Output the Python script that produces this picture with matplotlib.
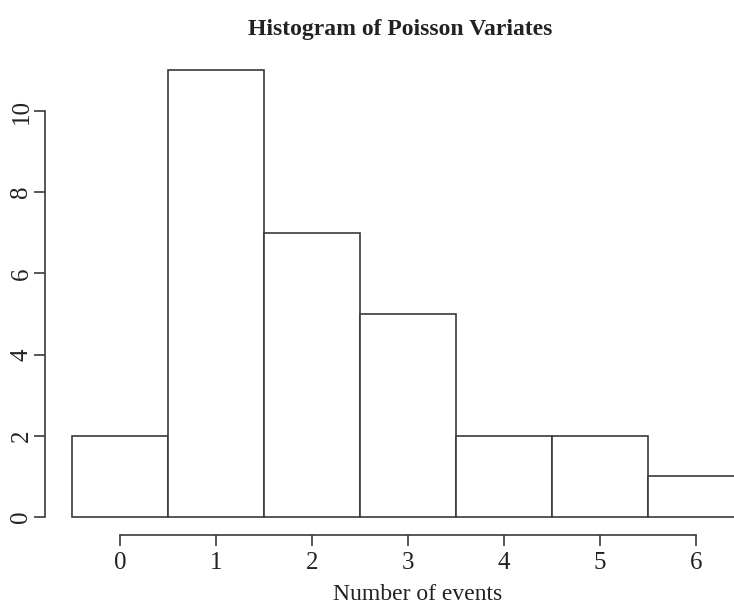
import matplotlib
matplotlib.use("Agg")
import matplotlib.pyplot as plt

# Poisson counts: value -> frequency
events = [0, 1, 2, 3, 4, 5, 6]
counts = [2, 11, 7, 5, 2, 2, 1]
y_ticks = [0, 2, 4, 6, 8, 10]
x_ticks = [0, 1, 2, 3, 4, 5, 6]

plt.rcParams['font.family'] = ['Liberation Serif', 'DejaVu Serif']
line_col = '#3a3a3a'

W, H = 734, 606
fig = plt.figure(figsize=(W / 100, H / 100), dpi=100)
ax = fig.add_axes([45 / W, (H - 535) / H, 1 - 45 / W, (535 - 60) / H])

ax.bar(events, counts, width=1.0, color='white', edgecolor=line_col, linewidth=1.2)

ax.set_xlim((45 - 120) / 96, (734 - 120) / 96)
ax.set_ylim((517 - 535) / 40.6, (517 - 60) / 40.6)

for s in ['top', 'right']:
    ax.spines[s].set_visible(False)
ax.spines['left'].set_bounds(0, 10)
ax.spines['bottom'].set_bounds(0, 6)
for s in ['left', 'bottom']:
    ax.spines[s].set_color(line_col)
    ax.spines[s].set_linewidth(1.2)

ax.set_xticks(x_ticks)
ax.set_yticks(y_ticks)
ax.set_yticklabels([str(v) for v in y_ticks], rotation=90, va='center')
ax.tick_params(colors=line_col, labelcolor='#222222', labelsize=18, length=8, width=1.2, pad=4)
ax.tick_params(axis='y', pad=1)

ax.set_xlabel('Number of events', fontsize=17, color='#222222')
ax.xaxis.set_label_coords((418 - 45) / (W - 45), -(595 - 535) / (535 - 60), transform=ax.transAxes)
ax.xaxis.label.set_va('center')
fig.text(400 / W, 1 - 30 / H, 'Histogram of Poisson Variates', fontsize=17, fontweight='bold',
         ha='center', va='center', color='#222222')

fig.savefig('out.png', dpi=100)
